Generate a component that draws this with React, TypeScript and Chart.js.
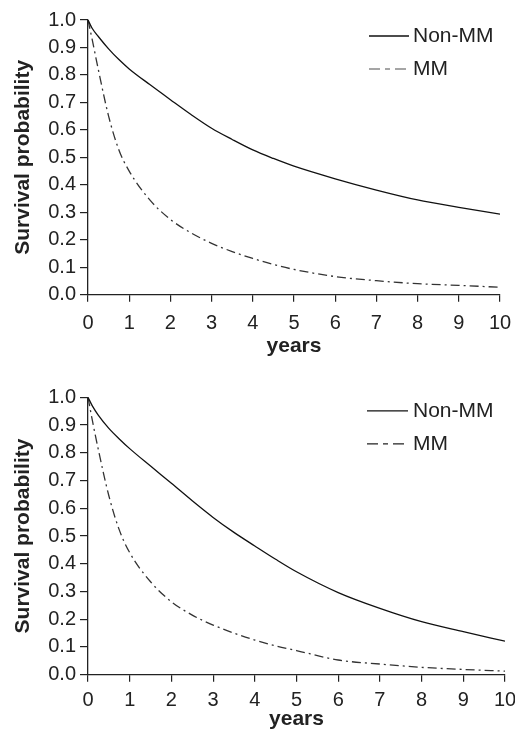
import React, { useEffect, useRef } from "react";
import { Chart, registerables } from "chart.js";

Chart.register(...registerables);

// ---- data ----
const years = [0, 0.1, 0.25, 0.5, 0.75, 1, 1.5, 2, 2.5, 3, 3.5, 4, 4.5, 5, 6, 7, 8, 9, 10];
const topNonMM = [1, 0.97, 0.94, 0.895, 0.856, 0.822, 0.765, 0.71, 0.656, 0.606, 0.565, 0.527, 0.496, 0.468, 0.422, 0.381, 0.345, 0.318, 0.293];
const topMM = [1, 0.93, 0.82, 0.65, 0.527, 0.45, 0.345, 0.274, 0.225, 0.187, 0.157, 0.132, 0.11, 0.092, 0.066, 0.051, 0.04, 0.034, 0.027];
const bottomNonMM = [1, 0.97, 0.935, 0.888, 0.85, 0.815, 0.752, 0.69, 0.627, 0.567, 0.513, 0.464, 0.416, 0.371, 0.296, 0.239, 0.191, 0.155, 0.121];
const bottomMM = [1, 0.92, 0.81, 0.645, 0.522, 0.44, 0.335, 0.263, 0.215, 0.179, 0.15, 0.125, 0.104, 0.087, 0.053, 0.0385, 0.0265, 0.019, 0.013];
const seriesLabels = ["Non-MM", "MM"];
const xTitle = "years";
const yTitle = "Survival probability";

const FONT = "'Liberation Sans', Arial, Helvetica, sans-serif";
const INK = "#222";

const insideLegend = {
  id: "insideLegend",
  afterDatasetsDraw(chart: any, _args: any, opts: any) {
    const ctx = chart.ctx;
    chart.data.datasets.forEach((ds: any, i: number) => {
      const y = opts.y0 + i * opts.gap;
      ctx.save();
      ctx.strokeStyle = opts.lineColors[i];
      ctx.lineWidth = ds.borderWidth;
      ctx.setLineDash(opts.dashes[i]);
      ctx.beginPath();
      ctx.moveTo(opts.x1, y);
      ctx.lineTo(opts.x2, y);
      ctx.stroke();
      ctx.setLineDash([]);
      ctx.fillStyle = INK;
      ctx.font = `21px ${FONT}`;
      ctx.textBaseline = "middle";
      ctx.textAlign = "left";
      ctx.fillText(ds.label, opts.textX, y);
      ctx.restore();
    });
  },
};

type Cfg = {
  nonMM: number[];
  mm: number[];
  pad: { top: number; right: number; bottom: number; left: number };
  xAxisHeight: number;
  xTickPad: number;
  xTitlePadBottom: number;
  legend: any;
};

function buildChart(canvas: HTMLCanvasElement, cfg: Cfg) {
  return new Chart(canvas, {
    type: "line",
    data: {
      datasets: [
        {
          label: seriesLabels[0],
          data: years.map((x, i) => ({ x, y: cfg.nonMM[i] })),
          borderColor: "#111",
          borderWidth: 1.3,
          pointRadius: 0,
          cubicInterpolationMode: "monotone",
          fill: false,
        },
        {
          label: seriesLabels[1],
          data: years.map((x, i) => ({ x, y: cfg.mm[i] })),
          borderColor: "#333",
          borderWidth: 1.3,
          borderDash: [9, 4, 2, 4],
          pointRadius: 0,
          cubicInterpolationMode: "monotone",
          fill: false,
        },
      ],
    },
    options: {
      animation: false,
      responsive: false,
      layout: { padding: cfg.pad },
      plugins: {
        legend: { display: false },
        tooltip: { enabled: false },
        insideLegend: cfg.legend,
      } as any,
      scales: {
        x: {
          type: "linear",
          min: 0,
          max: 10,
          afterFit: (s: any) => {
            s.height = cfg.xAxisHeight;
            s.paddingLeft = 0;
            s.paddingRight = 0;
          },
          ticks: {
            stepSize: 1,
            color: INK,
            font: { family: FONT, size: 20 },
            padding: cfg.xTickPad,
            maxRotation: 0,
          },
          grid: {
            display: true,
            drawOnChartArea: false,
            drawTicks: true,
            tickLength: 7,
            color: INK,
            lineWidth: 1.2,
          },
          border: { display: true, color: INK, width: 1.3 },
          title: {
            display: true,
            text: xTitle,
            color: INK,
            font: { family: FONT, size: 21, weight: "bold" },
            padding: { top: 0, bottom: cfg.xTitlePadBottom },
          },
        },
        y: {
          type: "linear",
          min: 0,
          max: 1,
          afterFit: (s: any) => {
            s.width = 88;
            s.paddingTop = 0;
            s.paddingBottom = 0;
          },
          ticks: {
            stepSize: 0.1,
            color: INK,
            font: { family: FONT, size: 20 },
            padding: 4,
            callback: (v: any) => Number(v).toFixed(1),
          },
          grid: {
            display: true,
            drawOnChartArea: false,
            drawTicks: true,
            tickLength: 8,
            color: INK,
            lineWidth: 1.2,
          },
          border: { display: true, color: INK, width: 1.3 },
          title: {
            display: true,
            text: yTitle,
            color: INK,
            font: { family: FONT, size: 21, weight: "bold" },
            padding: { top: 11, bottom: 0 },
          },
        },
      },
    } as any,
    plugins: [insideLegend as any],
  });
}

function Panel({ cfg }: { cfg: Cfg }) {
  const ref = useRef<HTMLCanvasElement | null>(null);
  useEffect(() => {
    if (!ref.current) return;
    const chart = buildChart(ref.current, cfg);
    return () => chart.destroy();
  }, []);
  return <canvas ref={ref} width={515} height={366} style={{ display: "block" }} />;
}

const topCfg: Cfg = {
  nonMM: topNonMM,
  mm: topMM,
  pad: { top: 20, right: 15, bottom: 0, left: 0 },
  xAxisHeight: 71.3,
  xTickPad: 10,
  xTitlePadBottom: 7,
  legend: { x1: 369, x2: 409, textX: 413, y0: 36, gap: 33, lineColors: ["#111", "#888"], dashes: [[], [11, 5, 5, 5]] },
};

const bottomCfg: Cfg = {
  nonMM: bottomNonMM,
  mm: bottomMM,
  pad: { top: 31.3, right: 10, bottom: 0, left: 0 },
  xAxisHeight: 57.3,
  xTickPad: 7,
  xTitlePadBottom: 0,
  legend: { x1: 367, x2: 408, textX: 413, y0: 44.8, gap: 33, lineColors: ["#111", "#222"], dashes: [[], [11, 5, 5, 5]] },
};

export default function App() {
  return (
    <div style={{ position: "absolute", left: 0, top: 0, width: 515, height: 732, background: "#fff" }}>
      <Panel cfg={topCfg} />
      <Panel cfg={bottomCfg} />
    </div>
  );
}
